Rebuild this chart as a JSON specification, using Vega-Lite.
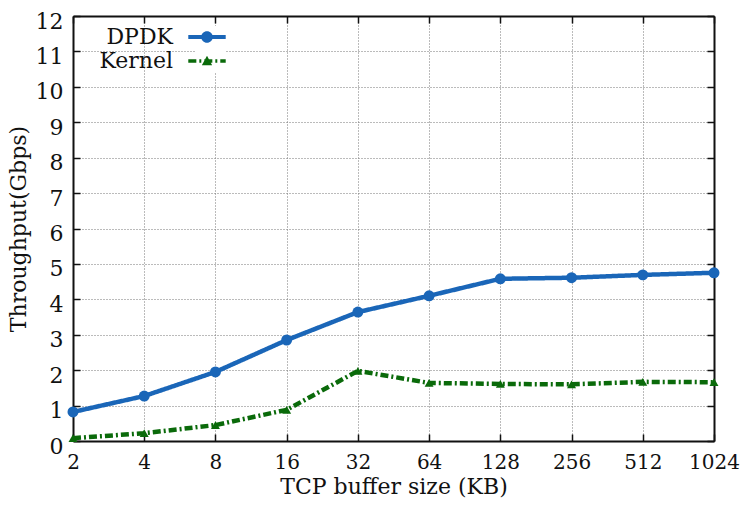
{
  "$schema": "https://vega.github.io/schema/vega-lite/v6.json",
  "width": 641,
  "height": 425,
  "autosize": "none",
  "padding": {"left": 73, "top": 16, "right": 28, "bottom": 66},
  "background": "white",
  "config": {
    "view": {"stroke": null},
    "font": "DejaVu Serif",
    "axis": {
      "labelFont": "DejaVu Serif",
      "titleFont": "DejaVu Serif",
      "labelColor": "#111",
      "titleColor": "#111",
      "titleFontWeight": "normal",
      "domainColor": "#111",
      "domainWidth": 2,
      "tickColor": "#111",
      "tickWidth": 1.5,
      "tickSize": -7,
      "gridColor": "#777",
      "gridDash": [1, 2],
      "gridWidth": 1
    },
    "legend": {
      "labelFont": "DejaVu Serif",
      "labelFontSize": 21,
      "labelColor": "#111"
    }
  },
  "data": {
    "values": [
      {"size": 2, "series": "DPDK", "gbps": 0.82},
      {"size": 4, "series": "DPDK", "gbps": 1.27},
      {"size": 8, "series": "DPDK", "gbps": 1.95},
      {"size": 16, "series": "DPDK", "gbps": 2.85},
      {"size": 32, "series": "DPDK", "gbps": 3.64},
      {"size": 64, "series": "DPDK", "gbps": 4.1},
      {"size": 128, "series": "DPDK", "gbps": 4.58},
      {"size": 256, "series": "DPDK", "gbps": 4.61},
      {"size": 512, "series": "DPDK", "gbps": 4.69},
      {"size": 1024, "series": "DPDK", "gbps": 4.75},
      {"size": 2, "series": "Kernel", "gbps": 0.08},
      {"size": 4, "series": "Kernel", "gbps": 0.22},
      {"size": 8, "series": "Kernel", "gbps": 0.45},
      {"size": 16, "series": "Kernel", "gbps": 0.88},
      {"size": 32, "series": "Kernel", "gbps": 1.98},
      {"size": 64, "series": "Kernel", "gbps": 1.64},
      {"size": 128, "series": "Kernel", "gbps": 1.61},
      {"size": 256, "series": "Kernel", "gbps": 1.6},
      {"size": 512, "series": "Kernel", "gbps": 1.67},
      {"size": 1024, "series": "Kernel", "gbps": 1.66}
    ]
  },
  "layer": [
    {
      "mark": {"type": "line", "strokeWidth": 4.5},
      "encoding": {
        "x": {
          "field": "size", "type": "quantitative",
          "scale": {"type": "log", "base": 2, "domain": [2, 1024], "nice": false},
          "axis": {
            "orient": "bottom",
            "values": [2, 4, 8, 16, 32, 64, 128, 256, 512, 1024],
            "format": "d",
            "grid": true,
            "labelFontSize": 20,
            "labelPadding": 18,
            "labelFlush": false,
            "title": "TCP buffer size (KB)",
            "titleFontSize": 22,
            "titlePadding": 4
          }
        },
        "y": {
          "field": "gbps", "type": "quantitative",
          "scale": {"domain": [0, 12], "nice": false},
          "axis": {
            "orient": "left",
            "values": [0, 1, 2, 3, 4, 5, 6, 7, 8, 9, 10, 11, 12],
            "grid": true,
            "labelFontSize": 22,
            "labelPadding": 17,
            "labelBaseline": "middle",
            "labelOffset": 5,
            "labelFlush": false,
            "title": "Throughput(Gbps)",
            "titleFontSize": 22,
            "titlePadding": 5
          }
        },
        "color": {
          "field": "series", "type": "nominal",
          "scale": {"domain": ["DPDK", "Kernel"], "range": ["#1a66b8", "#0a6a0a"]},
          "legend": {
            "title": null,
            "orient": "none",
            "legendX": 123,
            "legendY": 10,
            "symbolSize": 350,
            "labelAlign": "right",
            "labelOffset": -45,
            "labelFontSize": 22,
            "rowPadding": 2,
            "fillColor": "white",
            "padding": 0,
            "encode": {
              "symbols": {
                "update": {
                  "shape": {"signal": "datum.value === 'DPDK' ? 'M-2,-0.22L2,-0.22L2,0.22L-2,0.22ZM-0.62,0A0.62,0.62,0,1,1,0.62,0A0.62,0.62,0,1,1,-0.62,0Z' : 'M-2,-0.2L-1.14,-0.2L-1.14,0.2L-2,0.2ZM-0.82,-0.2L-0.61,-0.2L-0.61,0.2L-0.82,0.2ZM-0.29,-0.2L0.57,-0.2L0.57,0.2L-0.29,0.2ZM0.89,-0.2L1.1,-0.2L1.1,0.2L0.89,0.2ZM1.42,-0.2L2,-0.2L2,0.2L1.42,0.2ZM-0.55,0.45L0,-0.55L0.55,0.45Z'"},
                  "fill": {"signal": "datum.value === 'DPDK' ? '#1a66b8' : '#0a6a0a'"},
                  "fillOpacity": {"value": 1},
                  "strokeWidth": {"value": 0}
                }
              }
            }
          }
        },
        "strokeDash": {
          "field": "series", "type": "nominal",
          "scale": {"domain": ["DPDK", "Kernel"], "range": [[1, 0], [8, 3, 2, 3]]},
          "legend": {
            "title": null,
            "orient": "none",
            "legendX": 123,
            "legendY": 10
          }
        }
      }
    },
    {
      "transform": [{"filter": "datum.series === 'DPDK'"}],
      "mark": {"type": "point", "shape": "circle", "filled": true, "opacity": 1, "size": 120, "color": "#1a66b8", "strokeWidth": 0},
      "encoding": {
        "x": {
          "field": "size", "type": "quantitative",
          "scale": {"type": "log", "base": 2, "domain": [2, 1024], "nice": false},
          "axis": {
            "orient": "top",
            "values": [2, 4, 8, 16, 32, 64, 128, 256, 512, 1024],
            "labels": false,
            "grid": false,
            "title": null
          }
        },
        "y": {
          "field": "gbps", "type": "quantitative",
          "scale": {"domain": [0, 12], "nice": false},
          "axis": {
            "orient": "right",
            "values": [0, 1, 2, 3, 4, 5, 6, 7, 8, 9, 10, 11, 12],
            "labels": false,
            "grid": false,
            "title": null
          }
        }
      }
    },
    {
      "transform": [{"filter": "datum.series === 'Kernel'"}],
      "mark": {"type": "point", "shape": "triangle-up", "filled": true, "opacity": 1, "size": 80, "color": "#0a6a0a", "strokeWidth": 0},
      "encoding": {
        "x": {
          "field": "size", "type": "quantitative",
          "scale": {"type": "log", "base": 2, "domain": [2, 1024], "nice": false},
          "axis": null
        },
        "y": {
          "field": "gbps", "type": "quantitative",
          "scale": {"domain": [0, 12], "nice": false},
          "axis": null
        }
      }
    }
  ],
  "resolve": {"axis": {"x": "independent", "y": "independent"}}
}
